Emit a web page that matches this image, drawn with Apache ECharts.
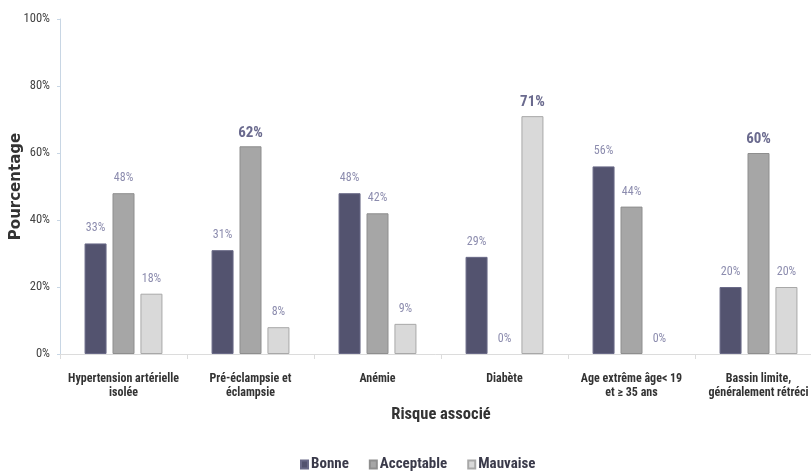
<!DOCTYPE html>
<html>
<head>
<meta charset="utf-8">
<script src="https://cdn.jsdelivr.net/npm/echarts@6/dist/echarts.min.js"></script>
<style>
  html, body { margin: 0; padding: 0; background: #fff; }
  #chart { width: 811px; height: 473px; }
</style>
</head>
<body>
<div id="chart"></div>
<script>
// Risk factors on the x axis
const categories = [
  'Hypertension artérielle\nisolée',
  'Pré-éclampsie et\néclampsie',
  'Anémie',
  'Diabète',
  'Age extrême âge< 19\net ≥ 35 ans',
  'Bassin limite,\ngénéralement rétréci'
];
// Percentages per outcome group
const bonne = [33, 31, 48, 29, 56, 20];
const acceptable = [48, 62, 42, 0, 44, 60];
const mauvaise = [18, 8, 9, 71, 0, 20];
const yTicks = [0, 20, 40, 60, 80, 100];

const FONT = '"Roboto Condensed", "Open Sans", sans-serif';

function labelFor(v) {
  return v >= 60 ? '{big|' + v + '%}' : '{small|' + v + '%}';
}
const labelCfg = {
  show: true,
  position: 'top',
  distance: 6,
  formatter: p => labelFor(p.value),
  rich: {
    small: { fontFamily: FONT, fontSize: 12, color: '#8c8cae', padding: [0, 0, 3, 0] },
    big: { fontFamily: FONT, fontSize: 15, fontWeight: 'bold', color: '#6a6a8e' }
  }
};

// zero-height bars get no outline
function withOutline(values) {
  return values.map(v => v === 0 ? { value: v, itemStyle: { borderWidth: 0 } } : v);
}

function series(name, data, color, border) {
  return {
    name, type: 'bar', data: withOutline(data),
    barWidth: 22, barGap: '27%',
    itemStyle: { color, borderColor: border, borderWidth: 1 },
    label: labelCfg
  };
}

const chart = echarts.init(document.getElementById('chart'));
chart.setOption({
  animation: false,
  textStyle: { fontFamily: FONT },
  grid: { left: 60, top: 19, width: 762, height: 335, containLabel: false, outerBoundsMode: 'none' },
  legend: {
    left: 295, top: 452,
    itemWidth: 7, itemHeight: 8, itemGap: 20,
    icon: 'rect',
    textStyle: { fontFamily: FONT, fontSize: 15, fontWeight: 'bold', color: '#3a3a4a', padding: [0, 0, 0, -2] },
    data: ['Bonne', 'Acceptable', 'Mauvaise']
  },
  xAxis: {
    type: 'category',
    data: categories,
    name: 'Risque associé',
    nameLocation: 'middle',
    nameGap: 52,
    nameMoveOverlap: false,
    nameTextStyle: { fontFamily: FONT, fontSize: 16.5, fontWeight: 'bold', color: '#333' },
    axisLine: { lineStyle: { color: '#dcdcdc' } },
    axisTick: { show: true, length: 5, lineStyle: { color: '#dcdcdc' } },
    axisLabel: {
      interval: 0, margin: 18, lineHeight: 14,
      fontFamily: FONT, fontSize: 12, fontWeight: 'bold', color: '#333'
    }
  },
  yAxis: {
    type: 'value',
    min: yTicks[0], max: yTicks[yTicks.length - 1], interval: 20,
    name: 'Pourcentage',
    nameLocation: 'middle',
    nameGap: 36,
    nameMoveOverlap: false,
    nameRotate: 90,
    nameTextStyle: { fontFamily: '"DejaVu Sans", sans-serif', fontSize: 15, fontWeight: 'bold', color: '#333' },
    axisLine: { show: true, lineStyle: { color: '#c8d6e4' } },
    axisTick: { show: true, length: 3, lineStyle: { color: '#c8d6e4' } },
    splitLine: { show: false },
    axisLabel: {
      fontFamily: FONT, fontSize: 12.5, color: '#444', margin: 10,
      formatter: v => v + '%'
    }
  },
  series: [
    series('Bonne', bonne, '#53536f', '#6a6a88'),
    series('Acceptable', acceptable, '#a6a6a6', '#8e8e8e'),
    series('Mauvaise', mauvaise, '#d9d9d9', '#a8a8a8')
  ]
});
</script>
</body>
</html>
